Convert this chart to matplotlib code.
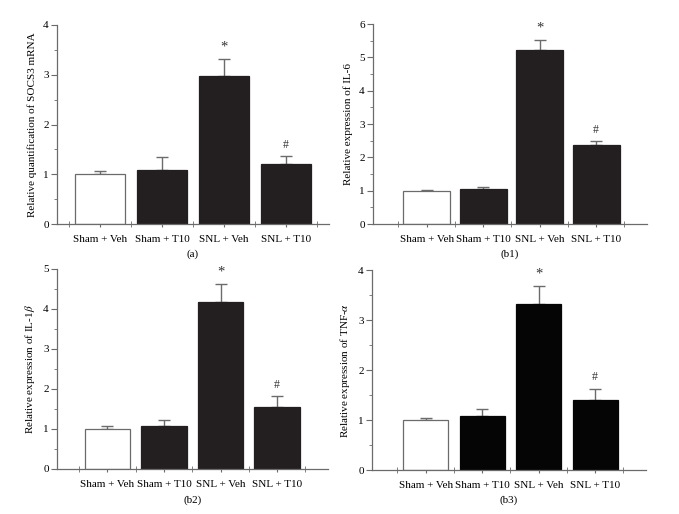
import matplotlib.pyplot as plt
from matplotlib.ticker import MultipleLocator

plt.rcParams['font.family'] = ['Liberation Serif', 'DejaVu Serif']
plt.rcParams['mathtext.fontset'] = 'stix'

groups = ["Sham + Veh", "Sham + T10", "SNL + Veh", "SNL + T10"]

socs3_mean = [1.0, 1.08, 2.97, 1.20]
socs3_err = [0.07, 0.27, 0.35, 0.17]

il6_mean = [1.0, 1.05, 5.23, 2.36]
il6_err = [0.03, 0.07, 0.29, 0.13]

il1b_mean = [1.0, 1.08, 4.17, 1.54]
il1b_err = [0.07, 0.14, 0.46, 0.28]

tnfa_mean = [1.0, 1.08, 3.32, 1.41]
tnfa_err = [0.05, 0.15, 0.36, 0.22]

marks = ["", "", "*", "#"]

axis_col = "#6b6b6b"

fig = plt.figure(figsize=(6.79, 5.14), dpi=100)
W, H = 679.0, 514.0


def panel(left, right, top, bottom, xlim, width, means, errs, ymax, ylabel,
          caption, dark, cap_y):
    ax = fig.add_axes([left / W, 1 - bottom / H, (right - left) / W, (bottom - top) / H])
    x = list(range(len(groups)))
    colors = ["white"] + [dark] * 3
    ax.bar(x, means, width=width, color=colors, edgecolor=[axis_col] + [dark] * 3,
           linewidth=0.9, zorder=2)
    for i in x:
        ax.errorbar(i, means[i], yerr=[[0], [errs[i]]], fmt="none", ecolor=axis_col,
                    elinewidth=1.0, capsize=4, capthick=1.0, zorder=1)
        if marks[i]:
            off = ymax * 0.025
            ax.text(i, means[i] + errs[i] + off, marks[i], ha="center", va="bottom",
                    fontsize=8.5 if marks[i] == "#" else 10.5, color="#333333")
    ax.set_xlim(*xlim)
    ax.set_ylim(0, ymax)
    ax.yaxis.set_major_locator(MultipleLocator(1))
    ax.yaxis.set_minor_locator(MultipleLocator(0.5))
    ax.set_xticks(x)
    ax.set_xticklabels(groups, fontsize=8)
    ax.set_xticks([i + 0.5 for i in range(-1, 4)], minor=True)
    ax.tick_params(axis="x", which="both", direction="inout", length=4, color=axis_col,
                   pad=6)
    ax.tick_params(axis="y", which="major", direction="out", length=4, color=axis_col,
                   labelsize=8, pad=2)
    ax.tick_params(axis="y", which="minor", direction="out", length=2, color=axis_col)
    for s in ["top", "right"]:
        ax.spines[s].set_visible(False)
    for s in ["left", "bottom"]:
        ax.spines[s].set_color(axis_col)
        ax.spines[s].set_linewidth(0.9)
    ax.set_ylabel(ylabel, fontsize=8, labelpad=4)
    fig.text((left + right) / 2 / W, 1 - cap_y / H, caption, ha="center", va="center",
             fontsize=8)
    return ax


panel(57, 329, 25, 224, (-0.69, 3.69), 0.8, socs3_mean, socs3_err, 4,
      "Relative quantification of SOCS3 mRNA", "(a)", "#231f20", 254)
panel(373, 647, 24, 224, (-0.95, 3.9), 0.83, il6_mean, il6_err, 6,
      "Relative expression of IL-6", "(b1)", "#231f20", 254)
panel(57, 328, 269, 469, (-0.89, 3.9), 0.8, il1b_mean, il1b_err, 5,
      r"Relative expression of IL-1$\beta$", "(b2)", "#231f20", 500)
panel(372, 646, 270, 470, (-0.95, 3.9), 0.8, tnfa_mean, tnfa_err, 4,
      r"Relative expression of TNF-$\alpha$", "(b3)", "#050505", 500)

fig.savefig("out.png", dpi=100)
